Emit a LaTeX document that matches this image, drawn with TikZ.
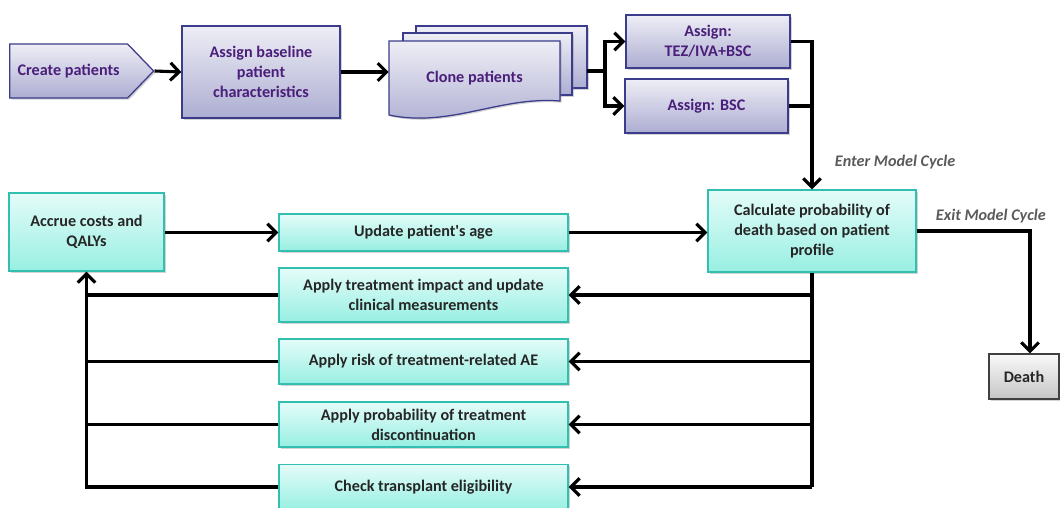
\documentclass[tikz,border=0pt]{standalone}
\usepackage{fontspec}
\setmainfont{Carlito}
\usetikzlibrary{shapes.symbols,shadows,arrows.meta}
\definecolor{purpleline}{HTML}{3C3C8C}
\definecolor{purpletop}{HTML}{EEEEF6}
\definecolor{purplebot}{HTML}{ADADD2}
\definecolor{purpletext}{HTML}{4A1E7A}
\definecolor{cyanline}{HTML}{33BFB0}
\definecolor{cyantop}{HTML}{E4FCF9}
\definecolor{cyanbot}{HTML}{98EFE2}
\definecolor{labelgray}{HTML}{5A5A5A}

\begin{document}
\begin{tikzpicture}[x=0.025cm, y=-0.025cm,
    every node/.style={font=\fontsize{11.5}{14.2}\selectfont\bfseries, align=center},
    boxshadow/.style={drop shadow={shadow xshift=1.2pt, shadow yshift=-1.2pt, opacity=0.35}},
    purplebox/.style={draw=purpleline, line width=0.9pt, top color=purpletop, bottom color=purplebot, text=purpletext, boxshadow},
    cyanbox/.style={draw=cyanline, line width=0.9pt, top color=cyantop, bottom color=cyanbot, text=black!85, boxshadow},
    deathbox/.style={draw=black!75, line width=0.9pt, top color=white!95!gray, bottom color=gray!45, text=black!85, boxshadow},
    link/.style={black, line width=2.2pt},
    arrowlink/.style={link, -{Straight Barb[length=2.2mm, width=4.4mm]}},
    cyclelabel/.style={font=\fontsize{11.5}{14}\selectfont\bfseries\itshape, text=labelgray}]
    \useasboundingbox (0,0) rectangle (1060,507);

    \node [purplebox, signal, signal to=east, signal pointer angle=92, minimum width=3.6cm, minimum height=1.35cm, anchor=west] (create) at (9,71) {Create patients};
    \node [purplebox, minimum width=3.95cm, minimum height=2.3cm] (base) at (261,72) {Assign baseline\\patient\\characteristics};

    \filldraw [purplebox] (416,26) rectangle (587,88);
    \filldraw [purplebox] (403,33) rectangle (572,95);
    \filldraw [purplebox] (389,41) -- (560,41) -- (560,101) .. controls (500,96) and (450,128) .. (389,115) -- cycle;
    \node [text=purpletext, minimum width=4.275cm] (clone) at (474.5,78) {Clone patients};
    \coordinate (cloneR) at (587,71);

    \node [purplebox, minimum width=4.1cm, minimum height=1.325cm] (tez) at (708,41.5) {Assign:\\TEZ/IVA+BSC};
    \node [purplebox, minimum width=4.075cm, minimum height=1.35cm] (bsc) at (706.5,106) {Assign: BSC};

    \node [cyanbox, minimum width=5.2cm, minimum height=2.05cm] (calc) at (812,231) {Calculate probability of\\death based on patient\\profile};
    \node [deathbox, minimum width=1.75cm, minimum height=1.125cm] (death) at (1024,376.5) {Death};

    \node [cyanbox, minimum width=3.875cm, minimum height=1.95cm] (accrue) at (86.5,232) {Accrue costs and\\QALYs};
    \node [cyanbox, minimum width=7.225cm, minimum height=0.925cm] (age) at (423.5,232.5) {Update patient\textquotesingle s age};
    \node [cyanbox, minimum width=7.225cm, minimum height=1.35cm] (impact) at (423.5,295) {Apply treatment impact and update\\clinical measurements};
    \node [cyanbox, minimum width=7.225cm, minimum height=1.125cm] (ae) at (423.5,361.5) {Apply risk of treatment-related AE};
    \node [cyanbox, minimum width=7.225cm, minimum height=1.125cm] (disc) at (423.5,424.5) {Apply probability of treatment\\discontinuation};
    \node [cyanbox, minimum width=7.225cm, minimum height=1.125cm] (transplant) at (423.5,487) {Check transplant eligibility};

    \draw [arrowlink] (create.east) -- (base.west);
    \draw [arrowlink] (base.east) -- (base.east -| clone.west);
    \draw [link] (cloneR) -- ++(18,0) coordinate (split);
    \draw [arrowlink] (split) |- (tez.west);
    \draw [arrowlink] (split) |- (bsc.west);
    \draw [arrowlink] (tez.east) -| (calc.north);
    \draw [link] (bsc.east) -- (bsc.east -| calc.north);
    \node [cyclelabel, anchor=west] (enter) at (830,162) {Enter Model Cycle};

    \draw [arrowlink] (calc.east) -| ([xshift=0.15cm]death.north);
    \node [cyclelabel, anchor=west] (exit) at (931,216) {Exit Model Cycle};

    \draw [arrowlink] (accrue.east |- age.west) -- (age.west);
    \draw [arrowlink] (age.east) -- (age.east -| calc.west);

    \draw [link] (calc.south) -- (calc.south |- transplant.east);
    \foreach \step in {impact, ae, disc, transplant}
        \draw [arrowlink] (calc.south |- \step.east) -- (\step.east);
    \foreach \step in {impact, ae, disc}
        \draw [link] (\step.west) -- (\step.west -| accrue.south);
    \draw [arrowlink] (transplant.west) -| (accrue.south);
\end{tikzpicture}
\end{document}
